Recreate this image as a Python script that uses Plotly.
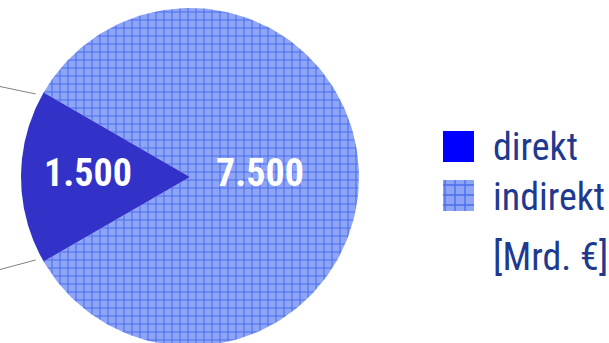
import numpy as np
import plotly.graph_objects as go

# ---- data ----
categories = ["direkt", "indirekt"]
values = [1500, 7500]
value_labels = ["1.500", "7.500"]
unit_label = "[Mrd. €]"

# ---- style ----
W, H = 609, 343
cx, cy, R = 190, 177, 169
direct_color = "#3232c8"
ind_bg = "#8ea4f5"
ind_fg = "#4a6ff0"
text_color = "#1e3a8f"
font_narrow = "Roboto Condensed, Liberation Sans Narrow, Arial Narrow, Liberation Sans, Arial"

total = sum(values)
# direct slice centred on the left (180 deg), indirect fills the rest
spans = [v / total * 360 for v in values]
start0 = 180 - spans[0] / 2
starts = [start0, start0 + spans[0]]

fig = go.Figure()

def wedge(a0, span, n=200):
    ang = np.deg2rad(np.linspace(a0, a0 + span, n))
    xs = np.concatenate([[cx], cx + R * np.cos(ang), [cx]])
    ys = np.concatenate([[cy], cy - R * np.sin(ang), [cy]])
    return xs, ys

# indirect slice (patterned)
xs, ys = wedge(starts[1], spans[1])
fig.add_trace(go.Scatter(x=xs, y=ys, fill="toself", mode="lines",
                         line=dict(width=0, color=ind_fg),
                         fillcolor=ind_bg,
                         fillpattern=dict(shape="+", bgcolor=ind_bg, fgcolor=ind_fg,
                                          size=8, solidity=0.25, fillmode="replace"),
                         hoverinfo="skip", showlegend=False))
# direct slice
xs, ys = wedge(starts[0], spans[0])
fig.add_trace(go.Scatter(x=xs, y=ys, fill="toself", mode="lines",
                         line=dict(width=0, color=direct_color),
                         fillcolor=direct_color, hoverinfo="skip", showlegend=False))

# value labels
lab_r = [0.604 * R, 0.414 * R]
for i in range(2):
    mid = np.deg2rad(starts[i] + spans[i] / 2)
    r = lab_r[i]
    fig.add_annotation(x=cx + r * np.cos(mid), y=cy - r * np.sin(mid),
                       text=value_labels[i], showarrow=False, yshift=4,
                       font=dict(family=font_narrow, size=38, color="white", weight="bold"),
                       xanchor="center", yanchor="middle")

# leader lines at the left edge
for a in [starts[0], starts[0] + spans[0]]:
    rad = np.deg2rad(a)
    ex, ey = cx + R * np.cos(rad), cy - R * np.sin(rad)
    fig.add_shape(type="line", x0=ex - 8, y0=ey + (1.5 if a < 180 else -1.5),
                  x1=0, y1=ey + (-6 if a < 180 else 8),
                  line=dict(color="#808080", width=1))

# legend swatches and texts
leg_x, leg_y0, leg_dy, sw = 443, 146.5, 49, 31
# direct swatch
fig.add_shape(type="rect", x0=leg_x, x1=leg_x + sw, y0=leg_y0 - sw / 2, y1=leg_y0 + sw / 2,
              fillcolor="#0000ff", line=dict(width=0))
# indirect swatch (patterned)
sy = leg_y0 + leg_dy
fig.add_trace(go.Scatter(x=[leg_x, leg_x + sw, leg_x + sw, leg_x, leg_x],
                         y=[sy - sw / 2, sy - sw / 2, sy + sw / 2, sy + sw / 2, sy - sw / 2],
                         fill="toself", mode="lines", line=dict(width=0, color=ind_fg),
                         fillcolor=ind_bg,
                         fillpattern=dict(shape="+", bgcolor=ind_bg, fgcolor=ind_fg,
                                          size=10, solidity=0.25, fillmode="replace"),
                         hoverinfo="skip", showlegend=False))
text_offsets = [0, 1, 12]
for i, t in enumerate(categories + [unit_label]):
    fig.add_annotation(x=491, y=leg_y0 + i * leg_dy + text_offsets[i], text=t,
                       showarrow=False, xanchor="left", yanchor="middle",
                       font=dict(family=font_narrow, size=38, color=text_color))

fig.update_xaxes(range=[0, W], visible=False, fixedrange=True)
fig.update_yaxes(range=[H, 0], visible=False, fixedrange=True)
fig.update_layout(width=W, height=H, margin=dict(l=0, r=0, t=0, b=0),
                  plot_bgcolor="white", paper_bgcolor="white", showlegend=False)

fig.write_html("out.html", config={"displayModeBar": False},
               post_script="document.body.style.margin='0';")
